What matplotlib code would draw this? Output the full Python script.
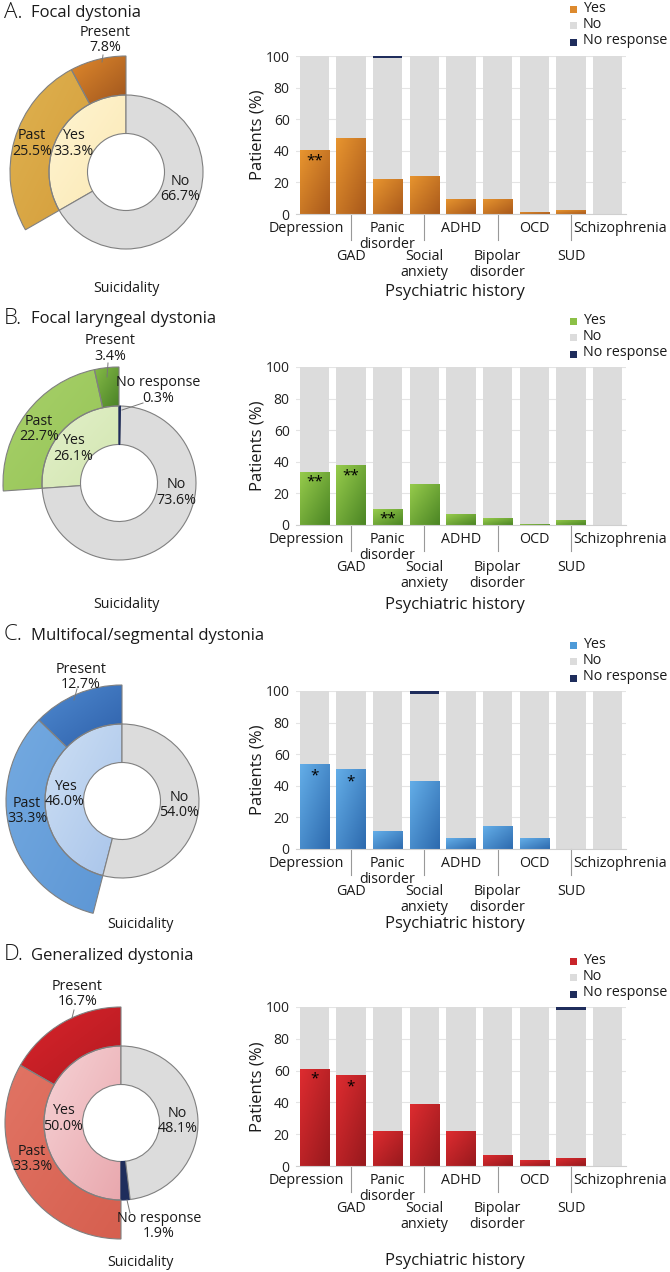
import numpy as np
import matplotlib
matplotlib.use("Agg")
import matplotlib.pyplot as plt
from matplotlib.colors import to_rgb

plt.rcParams['font.family'] = ['Open Sans', 'DejaVu Sans']

W, H = 670, 1272

# ---------------- data ----------------
categories = ["Depression", "GAD", "Panic\ndisorder", "Social\nanxiety", "ADHD",
              "Bipolar\ndisorder", "OCD", "SUD", "Schizophrenia"]

panel_letters = ["A.", "B.", "C.", "D."]
panel_titles = ["Focal dystonia", "Focal laryngeal dystonia",
                "Multifocal/segmental dystonia", "Generalized dystonia"]

# suicidality, inner ring (counterclockwise from 12 o'clock)
inner_labels_A = ["Yes", "No"]
inner_vals_A = [33.3, 66.7]
inner_labels_B = ["Yes", "No", "No response"]
inner_vals_B = [26.1, 73.6, 0.3]
inner_labels_C = ["Yes", "No"]
inner_vals_C = [46.0, 54.0]
inner_labels_D = ["Yes", "No response", "No"]
inner_vals_D = [50.0, 1.9, 48.1]

# suicidality, outer ring: Present, Past
outer_labels = ["Present", "Past"]
outer_vals_A = [7.8, 25.5]
outer_vals_B = [3.4, 22.7]
outer_vals_C = [12.7, 33.3]
outer_vals_D = [16.7, 33.3]

# psychiatric history (% of patients)
yes_A = [40.2, 48.2, 22.1, 24.2, 9.5, 9.5, 1.5, 2.5, 0.0]
no_A = [59.8, 51.8, 76.9, 75.8, 90.5, 90.5, 98.5, 97.5, 100.0]
nr_A = [0.0, 0.0, 1.0, 0.0, 0.0, 0.0, 0.0, 0.0, 0.0]

yes_B = [33.7, 37.7, 9.9, 26.1, 6.9, 4.4, 0.6, 3.4, 0.0]
no_B = [66.3, 62.3, 90.1, 73.9, 93.1, 95.3, 99.4, 96.6, 100.0]
nr_B = [0.0, 0.0, 0.0, 0.0, 0.0, 0.3, 0.0, 0.0, 0.0]

yes_C = [54.0, 50.8, 11.1, 43.1, 6.7, 14.3, 6.7, 0.0, 0.0]
no_C = [46.0, 49.2, 88.9, 55.3, 93.3, 85.7, 93.3, 100.0, 100.0]
nr_C = [0.0, 0.0, 0.0, 1.6, 0.0, 0.0, 0.0, 0.0, 0.0]

yes_D = [60.8, 57.4, 22.0, 39.0, 22.0, 7.1, 3.6, 5.2, 0.0]
no_D = [39.2, 42.6, 78.0, 61.0, 78.0, 92.9, 96.4, 92.9, 100.0]
nr_D = [0.0, 0.0, 0.0, 0.0, 0.0, 0.0, 0.0, 1.9, 0.0]

# significance marks: (category index, mark, y in %)
stars_A = [(0, "**", 33.5)]
stars_B = [(0, "**", 27.5), (1, "**", 31.0), (2, "**", 4.0)]
stars_C = [(0, "*", 46.5), (1, "*", 42.5)]
stars_D = [(0, "*", 55.0), (1, "*", 50.0)]

# ---------------- styles ----------------
GREY = "#dcdcdc"
EDGE = "#808080"
NAVY = "#1f2d5c"

styles = [
    dict(bar=("#e8952f", "#a9591b"), present=("#e0892c", "#a0561e"),
         past=("#dfb250", "#d49d3b"), yes=("#fff5d2", "#fbe8b4"), legend="#dd8a2e"),
    dict(bar=("#97cc4c", "#4b8524"), present=("#86bb48", "#4a8226"),
         past=("#a8d16a", "#96c457"), yes=("#e3f0ca", "#d2e6b0"), legend="#8cc046"),
    dict(bar=("#64aee8", "#2d6aae"), present=("#4f8ad0", "#2e60aa"),
         past=("#74aae1", "#5e97d5"), yes=("#cddff4", "#a8c4ea"), legend="#4d9ad8"),
    dict(bar=("#de2c30", "#97191d"), present=("#d8242b", "#b41a21"),
         past=("#e17464", "#d65f4f"), yes=("#f6d2d5", "#e9a8ae"), legend="#c9252b"),
]

# ---------------- layout (pixels) ----------------
layouts = [
    dict(title_y=12, donut_c=(126, 172), bar_top=56, bar_bot=214, legend_y=8,
         xlabel_y=292, suic=(126, 288),
         lab={"Present": (105, 40), "Past": (32, 143.5), "Yes": (73, 143.5), "No": (180, 189)},
         leaders=[((103, 55), (102, 62))]),
    dict(title_y=318, donut_c=(119, 483), bar_top=367, bar_bot=525, legend_y=320,
         xlabel_y=605, suic=(126, 604),
         lab={"Present": (110, 348.5), "Past": (39, 429), "Yes": (73, 448.5),
              "No": (176, 492.5), "No response": (158, 390.5)},
         leaders=[((108, 363), (107, 377)), ((143, 403), (122, 410))]),
    dict(title_y=635, donut_c=(122, 801), bar_top=691, bar_bot=849, legend_y=644,
         xlabel_y=924, suic=(140, 925),
         lab={"Present": (81, 677), "Past": (27, 811), "Yes": (65, 794), "No": (179, 805)},
         leaders=[((77, 689), (74, 700))]),
    dict(title_y=955, donut_c=(121, 1123), bar_top=1007, bar_bot=1166, legend_y=960,
         xlabel_y=1261, suic=(140, 1262),
         lab={"Present": (77.5, 994), "Past": (32, 1159), "Yes": (63, 1118.5),
              "No": (177.5, 1121), "No response": (159, 1226)},
         leaders=[((74, 1010), (72, 1018)), ((127, 1200), (130, 1213))]),
]

BAR_LEFT, BAR_RIGHT = 296, 626
R_OUT, R_MID, R_HOLE = 1.16, 0.77, 0.385
# horizontal nudges of the category labels, in pixels
label_shift = [-8, 0, 0, 0, 0, 0, 0, 0, 12]


def fig_rect(x0, y0, w, h):
    return [x0 / W, 1 - (y0 + h) / H, w / W, h / H]


def gradient_fill(ax, patch, c_light, c_dark, bbox):
    n = 64
    yy, xx = np.mgrid[0:1:n * 1j, 0:1:n * 1j]
    t = (xx + yy) / 2.0
    c1 = np.array(to_rgb(c_light))
    c2 = np.array(to_rgb(c_dark))
    img = c1 + (c2 - c1) * t[..., None]
    im = ax.imshow(img, extent=(bbox.x0, bbox.x1, bbox.y0, bbox.y1), origin='upper',
                   aspect='auto', interpolation='bilinear', zorder=patch.get_zorder() - 0.5)
    im.set_clip_path(patch)
    patch.set_facecolor('none')


fig = plt.figure(figsize=(W / 100, H / 100), dpi=100)

inner_labels = [inner_labels_A, inner_labels_B, inner_labels_C, inner_labels_D]
inner_vals = [inner_vals_A, inner_vals_B, inner_vals_C, inner_vals_D]
outer_vals = [outer_vals_A, outer_vals_B, outer_vals_C, outer_vals_D]
yes_all = [yes_A, yes_B, yes_C, yes_D]
no_all = [no_A, no_B, no_C, no_D]
nr_all = [nr_A, nr_B, nr_C, nr_D]
stars_all = [stars_A, stars_B, stars_C, stars_D]

texts = []   # (x, y, s, kwargs) drawn on overlay
lines = []

for p in range(4):
    st = styles[p]
    lay = layouts[p]

    # ---- donut ----
    cx, cy = lay["donut_c"]
    dax = fig.add_axes(fig_rect(cx - 120, cy - 120, 240, 240))
    in_cols = []
    for lab in inner_labels[p]:
        in_cols.append({"Yes": st["yes"][0], "No": GREY, "No response": NAVY}[lab])
    w_in, _ = dax.pie(inner_vals[p], radius=R_MID, startangle=90, counterclock=True,
                      colors=in_cols,
                      wedgeprops=dict(width=R_MID - R_HOLE, edgecolor=EDGE, linewidth=0.8))
    for wdg, lab in zip(w_in, inner_labels[p]):
        if lab == "Yes":
            gradient_fill(dax, wdg, st["yes"][0], st["yes"][1], wdg.get_path().get_extents())
        elif lab == "No response":
            wdg.set_edgecolor(NAVY)

    ov = outer_vals[p]
    w_out, _ = dax.pie(ov + [100 - sum(ov)], radius=R_OUT, startangle=90, counterclock=True,
                       colors=[st["present"][0], st["past"][0], "white"],
                       wedgeprops=dict(width=R_OUT - R_MID, edgecolor=EDGE, linewidth=0.8))
    w_out[2].set_visible(False)
    gradient_fill(dax, w_out[0], st["present"][0], st["present"][1], w_out[0].get_path().get_extents())
    gradient_fill(dax, w_out[1], st["past"][0], st["past"][1], w_out[1].get_path().get_extents())
    dax.set_xlim(-1.2, 1.2)
    dax.set_ylim(-1.2, 1.2)
    dax.set_aspect('equal')
    dax.axis('off')

    lab_vals = dict(zip(inner_labels[p], inner_vals[p]))
    lab_vals.update(dict(zip(outer_labels, ov)))
    for lab, (tx, ty) in lay["lab"].items():
        texts.append((tx, ty, f"{lab}\n{lab_vals[lab]:.1f}%",
                      dict(ha='center', va='center', fontsize=10.3, linespacing=1.05)))
    for a, b in lay["leaders"]:
        lines.append((a, b))
    texts.append((lay["suic"][0], lay["suic"][1], "Suicidality",
                  dict(ha='center', va='center', fontsize=10.3)))

    # ---- title ----
    texts.append((4, lay["title_y"], panel_letters[p],
                  dict(ha='left', va='center', fontsize=16, fontweight='light')))
    texts.append((31, lay["title_y"] + 1, panel_titles[p],
                  dict(ha='left', va='center', fontsize=12)))

    # ---- bars ----
    top, bot = lay["bar_top"], lay["bar_bot"]
    bax = fig.add_axes(fig_rect(BAR_LEFT, top, BAR_RIGHT - BAR_LEFT, bot - top))
    x = np.arange(len(categories))
    yes = np.array(yes_all[p])
    no = np.array(no_all[p])
    nr = np.array(nr_all[p])
    bars_yes = bax.bar(x, yes, width=0.8, color=st["legend"], zorder=2, linewidth=0)
    bax.bar(x, no, bottom=yes, width=0.8, color=GREY, zorder=2, linewidth=0)
    bax.bar(x, nr, bottom=yes + no, width=0.8, color=NAVY, zorder=2, linewidth=0)
    for b in bars_yes:
        if b.get_height() > 0:
            gradient_fill(bax, b, st["bar"][0], st["bar"][1], b.get_bbox())
    bax.set_xlim(-0.5, len(categories) - 0.5)
    bax.set_ylim(0, 100)
    bax.set_yticks(range(0, 101, 20))
    bax.tick_params(axis='y', length=0, pad=4.5, labelsize=10, labelcolor='#222222')
    bax.set_xticks([])
    bax.yaxis.grid(True, color='#e4e4e4', linewidth=0.8)
    bax.set_axisbelow(True)
    for s in ['left', 'right', 'top']:
        bax.spines[s].set_visible(False)
    bax.spines['bottom'].set_color('#cfcfcf')
    bax.spines['bottom'].set_linewidth(0.8)

    hpx = bot - top
    for i, cat in enumerate(categories):
        off = 7 if i % 2 == 0 else 35
        bax.annotate(cat, xy=(i, 0), xycoords=('data', 'axes fraction'),
                     xytext=(label_shift[i] * 0.72, -off * 0.72), textcoords='offset points',
                     ha='center', va='top', fontsize=10.3, linespacing=1.05,
                     annotation_clip=False, color='#1a1a1a')
        if i % 2 == 1:
            bax.plot([i, i], [0, -26 / hpx], transform=bax.get_xaxis_transform(),
                     color='#999999', linewidth=0.8, clip_on=False)
    for i, mark, yv in stars_all[p]:
        bax.text(i, yv, mark, ha='center', va='center', fontsize=11, zorder=5)

    texts.append((258, (top + bot) / 2, "Patients (%)",
                  dict(ha='center', va='center', fontsize=12, rotation=90)))
    texts.append((455, lay["xlabel_y"], "Psychiatric history",
                  dict(ha='center', va='center', fontsize=12)))

    # ---- legend ----
    ly = lay["legend_y"]
    for k, (lab, col) in enumerate([("Yes", st["legend"]), ("No", GREY), ("No response", NAVY)]):
        texts.append((583, ly + 16.5 * k, lab, dict(ha='left', va='center', fontsize=10.3)))
        lines.append(("sq", (573, ly + 16.5 * k + 1), col))

# overlay for annotations in pixel coordinates
ov_ax = fig.add_axes([0, 0, 1, 1])
ov_ax.set_xlim(0, W)
ov_ax.set_ylim(H, 0)
ov_ax.axis('off')
for item in lines:
    if item[0] == "sq":
        (sx, sy), col = item[1], item[2]
        ov_ax.add_patch(plt.Rectangle((sx - 3.5, sy - 3.5), 7, 7, color=col, linewidth=0))
    else:
        a, b = item
        ov_ax.plot([a[0], b[0]], [a[1], b[1]], color='#777777', linewidth=0.7)
for tx, ty, s, kw in texts:
    ov_ax.text(tx, ty, s, color='#1a1a1a', **kw)

fig.savefig("out.png", dpi=100)
